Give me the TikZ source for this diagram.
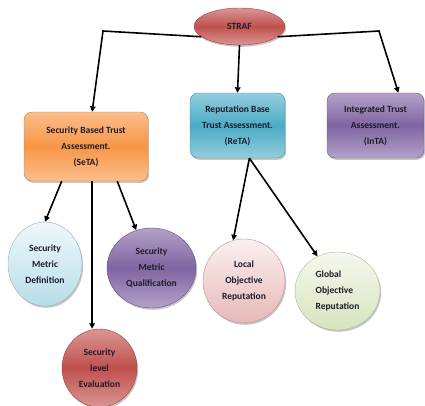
\documentclass[tikz,border=0pt]{standalone}
\usepackage{fontspec}
\setmainfont{Carlito}
\usetikzlibrary{shapes.geometric,shadows,arrows.meta}

\definecolor{redM}{HTML}{C0504D}
\definecolor{redL}{HTML}{DA9694}
\definecolor{orgM}{HTML}{F79646}
\definecolor{orgL}{HTML}{FBBE8C}
\definecolor{cyaM}{HTML}{4BACC6}
\definecolor{cyaL}{HTML}{93CDDD}
\definecolor{purM}{HTML}{8064A2}
\definecolor{purL}{HTML}{B3A2C7}
\definecolor{bluL}{HTML}{EEF8FB}
\definecolor{bluM}{HTML}{B7DDE8}
\definecolor{pnkL}{HTML}{FBF0EF}
\definecolor{pnkM}{HTML}{E6B9B8}
\definecolor{grnL}{HTML}{F5F8EE}
\definecolor{grnM}{HTML}{D7E4BD}
\definecolor{ink}{HTML}{1C1C2C}

\begin{document}
\begin{tikzpicture}[x=1pt,y=-1pt,font=\bfseries\fontsize{9.5}{16}\selectfont,text=ink,
  blob/.style={ellipse,inner sep=0pt,align=center,draw=#1!80!black,
    drop shadow={shadow xshift=1.2pt,shadow yshift=-1.8pt,opacity=.45}},
  tbox/.style={rectangle,rounded corners=8pt,inner sep=0pt,align=center,
    draw=#1!85!black,drop shadow={shadow xshift=1.2pt,shadow yshift=-1.8pt,opacity=.45}},
  arr/.style={-{Triangle[length=5.5pt,width=5.5pt]},line width=1.6pt,black}]

\useasboundingbox (0,0) rectangle (425,405);

% top
\node[blob=redM,top color=redL,bottom color=redL,middle color=redM,
  minimum width=91pt,minimum height=37pt] (straf) at (239.5,26.5) {STRAF};

% assessment boxes
\node[tbox=orgM,top color=orgL,bottom color=orgL,middle color=orgM,
  minimum width=124pt,minimum height=69pt] (seta) at (86,146.5)
  {Security Based Trust\\Assessment.\\(SeTA)};
\node[tbox=cyaM,top color=cyaL,bottom color=cyaL,middle color=cyaM,
  minimum width=95pt,minimum height=65pt] (reta) at (237.5,125.5)
  {Reputation Base\\Trust Assessment.\\(ReTA)};
\node[tbox=purM,top color=purL,bottom color=purL,middle color=purM,
  minimum width=97pt,minimum height=65pt] (inta) at (375.5,125.5)
  {Integrated Trust\\Assessment.\\(InTA)};

% leaves
\node[blob=bluM,top color=bluL,bottom color=bluM,
  minimum width=74pt,minimum height=84pt] (smdef) at (45,264)
  {Security\\Metric\\Definition};
\node[blob=purM,top color=purL,bottom color=purL,middle color=purM,
  minimum width=89pt,minimum height=80pt] (smq) at (151.5,268)
  {Security\\Metric\\Qualification};
\node[blob=redM,top color=redL,bottom color=redL,middle color=redM,
  minimum width=75pt,minimum height=78pt] (sle) at (99.5,368)
  {Security\\level\\Evaluation};
\node[blob=pnkM,top color=pnkL,bottom color=pnkM,
  minimum width=82pt,minimum height=84pt] (lor) at (244,281)
  {Local\\Objective\\Reputation};
\node[blob=grnM,top color=grnL,bottom color=grnM,align=left,
  minimum width=85pt,minimum height=78pt] (gor) at (337.5,291)
  {Global\\Objective\\Reputation};

\coordinate (kl) at (103,31);
\coordinate (kr) at (379,31);

\draw[arr] (straf.195) -- (kl) -- (seta.80);
\draw[arr] (straf.south) -- (reta.north);
\draw[arr] (straf.-15) -- (kr) -- (inta.55);

\draw[arr] (seta.-125) -- (smdef.north);
\draw[arr] (seta.-80) -- (sle.north -| seta.-80);
\draw[arr] (seta.-48) -- (smq.112);

\draw[arr] (reta.-70) -- (lor.105);
\draw[arr] (reta.-70) -- (gor.120);

\end{tikzpicture}
\end{document}
